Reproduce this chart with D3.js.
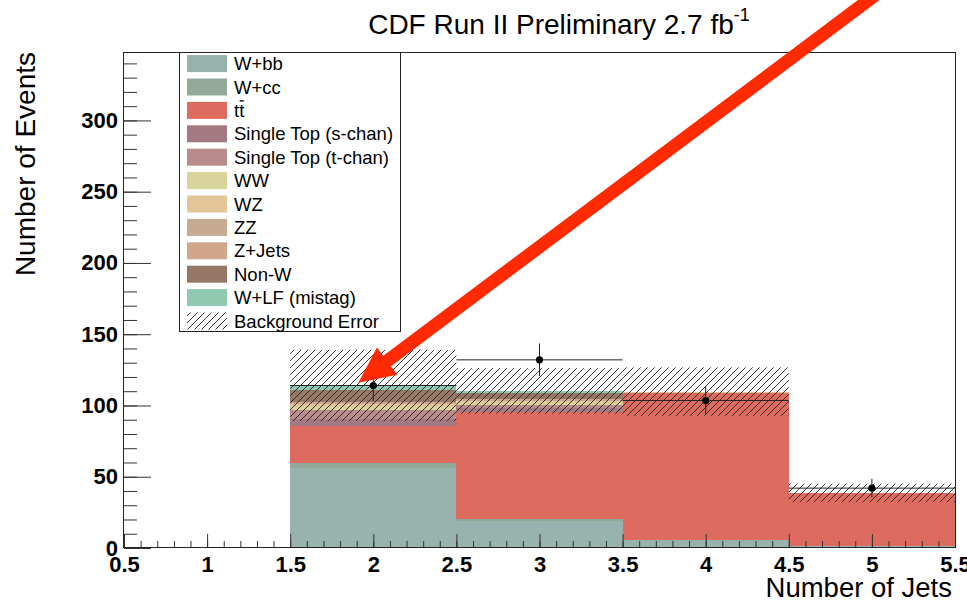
<!DOCTYPE html>
<html>
<head>
<meta charset="utf-8">
<script src="https://d3js.org/d3.v7.min.js"></script>
<style>
  body { margin: 0; background: #fff; }
  text { font-family: "Liberation Sans", Arial, Helvetica, sans-serif; }
</style>
</head>
<body>
<div id="chart"></div>
<script>
// bins (number of jets)
const binEdges = [0.5, 1.5, 2.5, 3.5, 4.5, 5.5];
const binCenters = [1, 2, 3, 4, 5];

// stacked backgrounds, bottom to top (same order as the legend)
const samples = ["W+bb", "W+cc", "tt", "Single Top (s-chan)", "Single Top (t-chan)",
  "WW", "WZ", "ZZ", "Z+Jets", "Non-W", "W+LF (mistag)"];
const sampleColors = ["#98b3ae", "#93aa9b", "#dd6b5f", "#a47a82", "#b98b8a",
  "#d8d49b", "#e4c597", "#c6aa92", "#d2a58c", "#977766", "#91c9b0"];

const wbb   = [0, 56.0, 19.1, 5.3, 1.2];
const wcc   = [0, 3.9, 1.0, 0.3, 0.2];
const ttbar = [0, 25.8, 75.6, 102.9, 37.0];
const stopS = [0, 5.0, 2.2, 0.2, 0.05];
const stopT = [0, 6.2, 2.5, 0.2, 0.05];
const ww    = [0, 2.0, 1.3, 0.1, 0.02];
const wz    = [0, 2.2, 1.7, 0.2, 0.03];
const zz    = [0, 0.5, 0.5, 0.05, 0];
const zjets = [0, 1.0, 0.8, 0.1, 0.03];
const nonW  = [0, 8.4, 3.9, 0.2, 0.05];
const wlf   = [0, 3.0, 1.6, 0.2, 0.02];
const sampleValues = [wbb, wcc, ttbar, stopS, stopT, ww, wz, zz, zjets, nonW, wlf];

// total background uncertainty per bin
const bkgError = [0, 25, 16, 17, 6.5];

// observed data
const dataCounts = [0, 114, 132, 103.5, 42];
const dataErrors = [0, 10.7, 11.5, 10.2, 6.5];

// axis ticks
const xMajorTicks = [0.5, 1, 1.5, 2, 2.5, 3, 3.5, 4, 4.5, 5, 5.5];
const yMajorTicks = [0, 50, 100, 150, 200, 250, 300];
const yMax = 348;

// red annotation arrow (data coordinates)
const arrowTip = [1.91, 116];
const arrowTail = [5.17, 401];

const width = 967, height = 602;

const svg = d3.select("#chart")
  .append("svg")
  .attr("width", width)
  .attr("height", height);

const x = d3.scaleLinear().domain([0.5, 5.5]).range([124, 955]);
const y = d3.scaleLinear().domain([0, yMax]).range([548, 52]);

// hatch pattern for background error
const defs = svg.append("defs");
defs.append("pattern")
  .attr("id", "hatch")
  .attr("patternUnits", "userSpaceOnUse")
  .attr("width", 7)
  .attr("height", 7)
  .append("path")
  .attr("d", "M-1,1 l2,-2 M0,7 l7,-7 M6,8 l2,-2")
  .attr("stroke", "#222")
  .attr("stroke-width", 0.9);

// build stack table
const rows = binCenters.map((c, i) => {
  let r = { bin: i };
  samples.forEach((s, k) => r[s] = sampleValues[k][i]);
  return r;
});
const series = d3.stack().keys(samples)(rows);
const totals = rows.map((r, i) => d3.sum(samples, s => r[s]));

const plot = svg.append("g");

plot.selectAll("g.layer")
  .data(series)
  .enter()
  .append("g")
  .attr("class", "layer")
  .attr("fill", (d, k) => sampleColors[k])
  .attr("shape-rendering", "crispEdges")
  .selectAll("rect")
  .data(d => d.filter(v => v[1] - v[0] > 0))
  .enter()
  .append("rect")
  .attr("x", d => x(binEdges[d.data.bin]))
  .attr("width", d => x(binEdges[d.data.bin + 1]) - x(binEdges[d.data.bin]))
  .attr("y", d => y(d[1]))
  .attr("height", d => y(d[0]) - y(d[1]));

// background error band
plot.selectAll("rect.err")
  .data(binCenters.map((c, i) => i).filter(i => bkgError[i] > 0))
  .enter()
  .append("rect")
  .attr("class", "err")
  .attr("x", i => x(binEdges[i]))
  .attr("width", i => x(binEdges[i + 1]) - x(binEdges[i]))
  .attr("y", i => y(totals[i] + bkgError[i]))
  .attr("height", i => y(totals[i] - bkgError[i]) - y(totals[i] + bkgError[i]))
  .attr("fill", "url(#hatch)");

// axes: ticks point inward like ROOT
const xMinor = d3.range(5, 56).map(k => k / 10);
const yMinor = d3.range(0, yMax, 10);

const xAxisMinor = svg.append("g")
  .attr("transform", `translate(0,${y(0)})`)
  .call(d3.axisBottom(x).tickValues(xMinor).tickSizeInner(-7).tickSizeOuter(0).tickFormat(""));
const xAxis = svg.append("g")
  .attr("transform", `translate(0,${y(0)})`)
  .call(d3.axisBottom(x).tickValues(xMajorTicks).tickSizeInner(-14).tickSizeOuter(0)
    .tickPadding(8).tickFormat(d3.format("~g")));
const yAxisMinor = svg.append("g")
  .attr("transform", `translate(${x(0.5)},0)`)
  .call(d3.axisLeft(y).tickValues(yMinor).tickSizeInner(-13).tickSizeOuter(0).tickFormat(""));
const yAxis = svg.append("g")
  .attr("transform", `translate(${x(0.5)},0)`)
  .call(d3.axisLeft(y).tickValues(yMajorTicks).tickSizeInner(-27).tickSizeOuter(0)
    .tickPadding(6));

[xAxisMinor, xAxis, yAxisMinor, yAxis].forEach(a => {
  a.select(".domain").remove();
  a.selectAll("line").attr("stroke", "#333");
});
[xAxis, yAxis].forEach(a => {
  a.selectAll("text")
    .attr("font-family", "'Liberation Sans', Arial, sans-serif")
    .attr("font-size", 22)
    .attr("font-weight", "bold")
    .attr("fill", "#000");
});

// frame
svg.append("rect")
  .attr("x", 123.5)
  .attr("y", 52.5)
  .attr("width", 832)
  .attr("height", 495)
  .attr("fill", "none")
  .attr("stroke", "#222")
  .attr("stroke-width", 1);

// data points with errors
const pts = svg.append("g")
  .selectAll("g")
  .data(binCenters.map((c, i) => i).filter(i => dataCounts[i] > 0))
  .enter()
  .append("g");

pts.append("line")
  .attr("x1", i => x(binEdges[i]))
  .attr("x2", i => x(binEdges[i + 1]))
  .attr("y1", i => y(dataCounts[i]))
  .attr("y2", i => y(dataCounts[i]))
  .attr("stroke", "#222");
pts.append("line")
  .attr("x1", i => x(binCenters[i]))
  .attr("x2", i => x(binCenters[i]))
  .attr("y1", i => y(dataCounts[i] - dataErrors[i]))
  .attr("y2", i => y(dataCounts[i] + dataErrors[i]))
  .attr("stroke", "#222");
pts.append("circle")
  .attr("cx", i => x(binCenters[i]))
  .attr("cy", i => y(dataCounts[i]))
  .attr("r", 3.6)
  .attr("fill", "#000");

// legend
const legend = svg.append("g");
legend.append("rect")
  .attr("x", 179.5)
  .attr("y", 52.5)
  .attr("width", 221)
  .attr("height", 279)
  .attr("fill", "#fff")
  .attr("stroke", "#222");

const legendItems = samples.map((s, k) => ({ name: s, fill: sampleColors[k] }))
  .concat([{ name: "Background Error", fill: "url(#hatch)" }]);

const items = legend.selectAll("g.item")
  .data(legendItems)
  .enter()
  .append("g")
  .attr("class", "item")
  .attr("transform", (d, i) => `translate(0,${63.6 + i * 23.4})`);

items.append("rect")
  .attr("x", 187)
  .attr("y", -8.5)
  .attr("width", 40)
  .attr("height", 17)
  .attr("fill", d => d.fill);

items.append("text")
  .attr("x", 234)
  .attr("y", 6.5)
  .attr("font-size", 18.5)
  .attr("fill", "#000")
  .text(d => d.name);

// overline on the second t of "tt"
items.filter(d => d.name === "tt").each(function () {
  let t = d3.select(this).select("text").node();
  let x0 = 234 + t.getSubStringLength(0, 1);
  let w = t.getSubStringLength(1, 1);
  d3.select(this).append("line")
    .attr("x1", x0 + 0.5)
    .attr("x2", x0 + w - 0.5)
    .attr("y1", -9.5)
    .attr("y2", -9.5)
    .attr("stroke", "#000")
    .attr("stroke-width", 1.3);
});

// titles
const title = svg.append("text")
  .attr("x", 559)
  .attr("y", 34)
  .attr("text-anchor", "middle")
  .attr("font-size", 28)
  .attr("fill", "#000");
title.append("tspan").text("CDF Run II Preliminary 2.7 fb");
title.append("tspan").attr("dy", -13).attr("font-size", 18).text("-1");

svg.append("text")
  .attr("transform", "translate(35,52) rotate(-90)")
  .attr("text-anchor", "end")
  .attr("font-size", 28)
  .attr("fill", "#000")
  .text("Number of Events");

svg.append("text")
  .attr("x", 952)
  .attr("y", 597)
  .attr("text-anchor", "end")
  .attr("font-size", 27.5)
  .attr("fill", "#000")
  .text("Number of Jets");

// red arrow
const tip = [x(arrowTip[0]), y(arrowTip[1])];
const tail = [x(arrowTail[0]), y(arrowTail[1])];
const len = Math.hypot(tail[0] - tip[0], tail[1] - tip[1]);
const u = [(tail[0] - tip[0]) / len, (tail[1] - tip[1]) / len];
const n = [-u[1], u[0]];
const headLen = 36, headHalf = 17;
const base = [tip[0] + headLen * u[0], tip[1] + headLen * u[1]];

svg.append("line")
  .attr("x1", base[0] - 2 * u[0])
  .attr("y1", base[1] - 2 * u[1])
  .attr("x2", tail[0])
  .attr("y2", tail[1])
  .attr("stroke", "#ff2a00")
  .attr("stroke-width", 13);
svg.append("path")
  .attr("d", d3.line()([
    tip,
    [base[0] + headHalf * n[0], base[1] + headHalf * n[1]],
    [base[0] - headHalf * n[0], base[1] - headHalf * n[1]]
  ]) + "Z")
  .attr("fill", "#ff2a00");
</script>
</body>
</html>
